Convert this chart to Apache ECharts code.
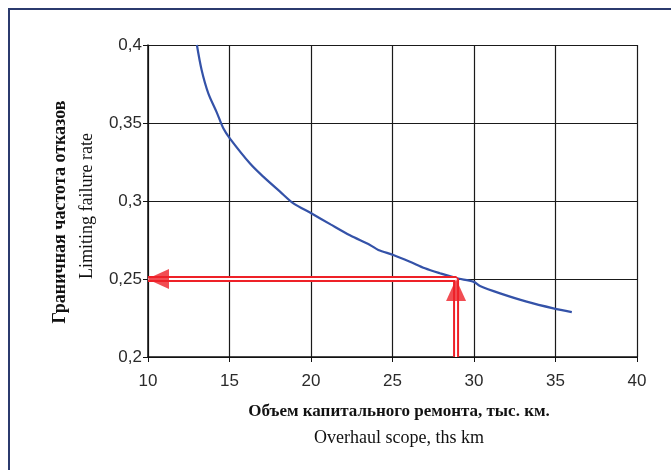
<!DOCTYPE html>
<html>
<head>
<meta charset="utf-8">
<script src="https://cdn.jsdelivr.net/npm/echarts@6/dist/echarts.min.js"></script>
<style>
  html, body { margin: 0; padding: 0; background: #fff; }
  #chart { width: 671px; height: 470px; }
</style>
</head>
<body>
<div id="chart"></div>
<script>
// Overhaul scope, ths km
const scopeKm = [13.0, 13.29, 13.7, 14.21, 14.62, 15.03, 16.26, 17.07, 18.1, 18.92, 20.04, 21.2, 22.39, 23.62, 24.13, 25.05, 26.07, 26.99, 27.91, 28.94, 29.96, 30.37, 31.6, 33.23, 34.87, 36.0];
// Limiting failure rate
const failureRate = [0.4, 0.384, 0.369, 0.357, 0.3466, 0.34, 0.324, 0.3156, 0.306, 0.2985, 0.292, 0.285, 0.278, 0.2718, 0.2686, 0.2654, 0.2611, 0.2569, 0.2537, 0.2505, 0.2483, 0.2455, 0.2408, 0.2355, 0.2312, 0.2288];

// Reading of the allowed scope at the chosen failure rate
const targetRate = 0.25;
const targetScope = 28.9;

const xTicks = [10, 15, 20, 25, 30, 35, 40];
const yTicks = [0.2, 0.25, 0.3, 0.35, 0.4];

const xTitleRu = 'Объем капитального ремонта, тыс. км.';
const xTitleEn = 'Overhaul scope, ths km';
const yTitleRu = 'Граничная частота отказов';
const yTitleEn = 'Limiting failure rate';

const curve = scopeKm.map((x, i) => [x, failureRate[i]]);
const guide = [[xTicks[0], targetRate], [targetScope, targetRate], [targetScope, yTicks[0]]];

const chart = echarts.init(document.getElementById('chart'), null, { renderer: 'canvas' });

const gridLine = { show: true, lineStyle: { color: '#1a1a1a', width: 1.2 } };
const labelFont = { fontFamily: 'Liberation Sans, Arial, sans-serif', fontSize: 17, color: '#2a2a2a' };
const serif = '"Liberation Serif", "Times New Roman", serif';

chart.setOption({
  animation: false,
  backgroundColor: '#fff',
  grid: { left: 148, top: 45, right: 34, bottom: 113, containLabel: false },
  xAxis: {
    type: 'value', min: 10, max: 40, interval: 5,
    axisLine: { show: true, lineStyle: { color: '#111', width: 1.5 } },
    axisTick: { show: true, length: 5, lineStyle: { color: '#111' } },
    axisLabel: Object.assign({ margin: 16, formatter: v => String(v) }, labelFont),
    splitLine: gridLine
  },
  yAxis: {
    type: 'value', min: 0.2, max: 0.4, interval: 0.05,
    axisLine: { show: true, lineStyle: { color: '#111', width: 1.5 } },
    axisTick: { show: true, length: 5, lineStyle: { color: '#111' } },
    axisLabel: Object.assign({ margin: 6, formatter: v => String(+v.toFixed(2)).replace('.', ',') }, labelFont),
    splitLine: gridLine
  },
  series: [
    {
      type: 'line', data: curve, showSymbol: false, smooth: 0.3,
      lineStyle: { color: '#3452a8', width: 2.2 }, z: 3
    },
    {
      // red double guide line: outer red stroke
      type: 'line', data: guide, showSymbol: false,
      lineStyle: { color: '#ee2128', width: 6 }, z: 4
    },
    {
      // white core making the line look doubled
      type: 'line', data: guide, showSymbol: false,
      lineStyle: { color: '#ffffff', width: 2 }, z: 5
    },
    {
      // arrow heads
      type: 'scatter', z: 6,
      data: [
        { value: [xTicks[0], targetRate], symbolRotate: 90, symbolOffset: [10, 0] },
        { value: [targetScope, targetRate], symbolRotate: 0, symbolOffset: [0, 11] }
      ],
      symbol: 'triangle', symbolSize: [20, 22],
      itemStyle: { color: '#ee2128' }
    }
  ],
  graphic: [
    {
      type: 'rect', shape: { x: 9, y: 9, width: 700, height: 500 },
      style: { fill: null, stroke: '#2b3a6e', lineWidth: 2 }, silent: true
    },
    {
      type: 'text', x: 399, y: 412,
      style: { text: xTitleRu, font: 'bold 17px ' + serif, fill: '#111', align: 'center', verticalAlign: 'middle' }
    },
    {
      type: 'text', x: 399, y: 438,
      style: { text: xTitleEn, font: '18px ' + serif, fill: '#111', align: 'center', verticalAlign: 'middle' }
    },
    {
      type: 'text', x: 60, y: 212, rotation: Math.PI / 2,
      style: { text: yTitleRu, font: 'bold 18px ' + serif, fill: '#111', align: 'center', verticalAlign: 'middle' }
    },
    {
      type: 'text', x: 87, y: 206, rotation: Math.PI / 2,
      style: { text: yTitleEn, font: '18px ' + serif, fill: '#111', align: 'center', verticalAlign: 'middle' }
    }
  ]
});
</script>
</body>
</html>
